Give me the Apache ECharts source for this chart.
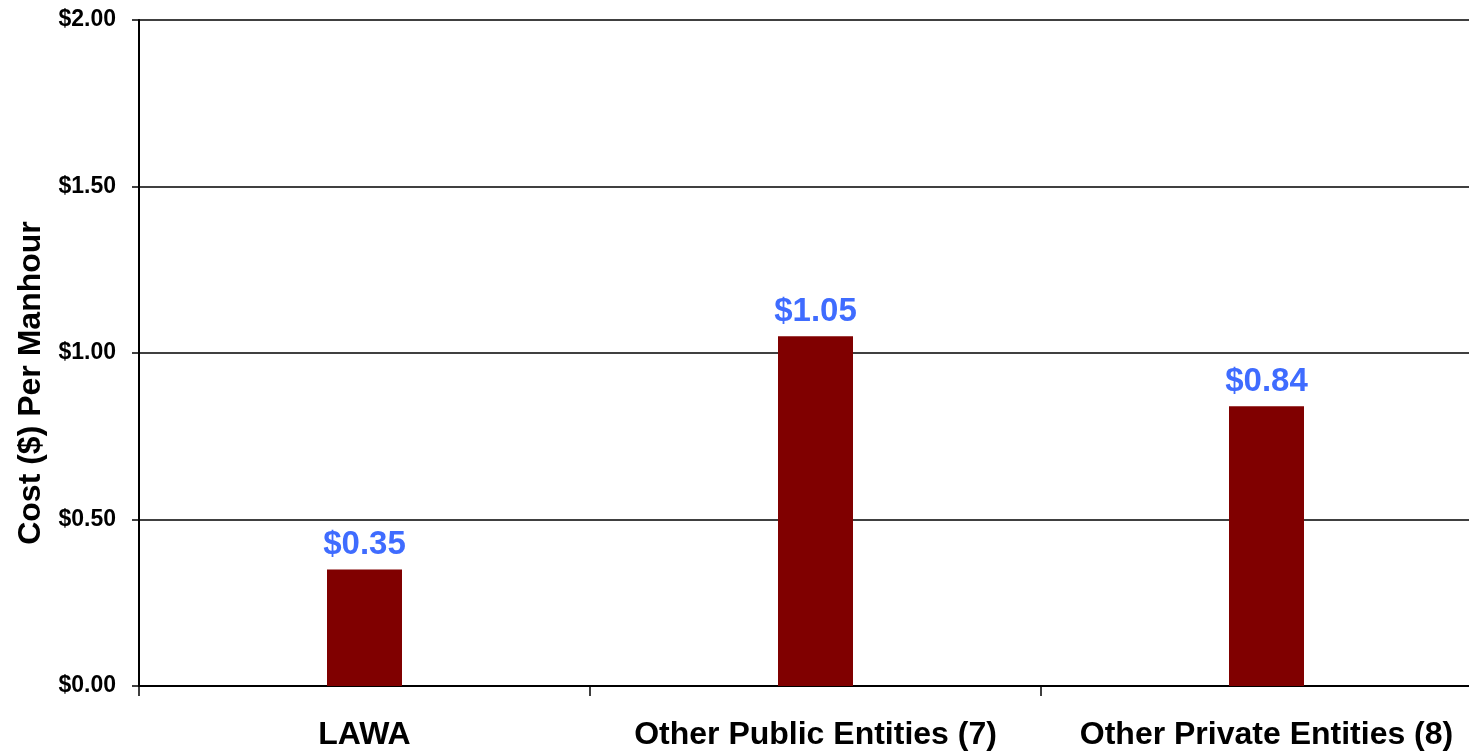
<!DOCTYPE html>
<html>
<head>
<meta charset="utf-8">
<script src="https://cdn.jsdelivr.net/npm/echarts@6/dist/echarts.min.js"></script>
<style>
html,body{margin:0;padding:0;background:#fff;overflow:hidden;width:1469px;height:753px;}
#chart{width:1492px;height:753px;}
</style>
</head>
<body>
<div id="chart"></div>
<script>
const categories = ['LAWA', 'Other Public Entities (7)', 'Other Private Entities (8)'];
const costPerManhour = [0.35, 1.05, 0.84];
const yAxisTitle = 'Cost ($) Per Manhour';

const chart = echarts.init(document.getElementById('chart'));
chart.setOption({
  animation: false,
  backgroundColor: '#ffffff',
  grid: { left: 139, right: 0, top: 20, bottom: 67, containLabel: false },
  xAxis: {
    type: 'category',
    data: categories,
    boundaryGap: true,
    axisLine: { show: true, lineStyle: { color: '#000', width: 2 } },
    axisTick: { show: true, interval: 0, alignWithLabel: false, length: 10, lineStyle: { color: '#000', width: 1.5 } },
    axisLabel: {
      interval: 0,
      margin: 33,
      color: '#000',
      fontFamily: 'Liberation Sans, Arial, sans-serif',
      fontWeight: 'bold',
      fontSize: 32
    },
    splitLine: { show: false }
  },
  yAxis: {
    type: 'value',
    min: 0,
    max: 2,
    interval: 0.5,
    name: yAxisTitle,
    nameLocation: 'middle',
    nameGap: 92,
    nameRotate: 90,
    nameTextStyle: {
      color: '#000',
      fontFamily: 'Liberation Sans, Arial, sans-serif',
      fontWeight: 'bold',
      fontSize: 32,
      padding: [0, 60, 0, 0]
    },
    axisLine: { show: true, lineStyle: { color: '#000', width: 2 } },
    axisTick: { show: true, length: 7, lineStyle: { color: '#000', width: 1.5 } },
    axisLabel: {
      margin: 23,
      color: '#000',
      fontFamily: 'Liberation Sans Narrow, Arial Narrow, Liberation Sans, sans-serif',
      fontWeight: 'bold',
      fontSize: 23,
      formatter: v => '$' + v.toFixed(2)
    },
    splitLine: { show: true, lineStyle: { color: '#000', width: 1.5 } }
  },
  series: [{
    type: 'bar',
    data: costPerManhour,
    barWidth: 75,
    itemStyle: { color: '#800000' },
    label: {
      show: true,
      position: 'top',
      distance: 8,
      color: '#3F6CFF',
      fontFamily: 'Liberation Sans, Arial, sans-serif',
      fontWeight: 'bold',
      fontSize: 33,
      formatter: p => '$' + p.value.toFixed(2)
    }
  }]
});
</script>
</body>
</html>
